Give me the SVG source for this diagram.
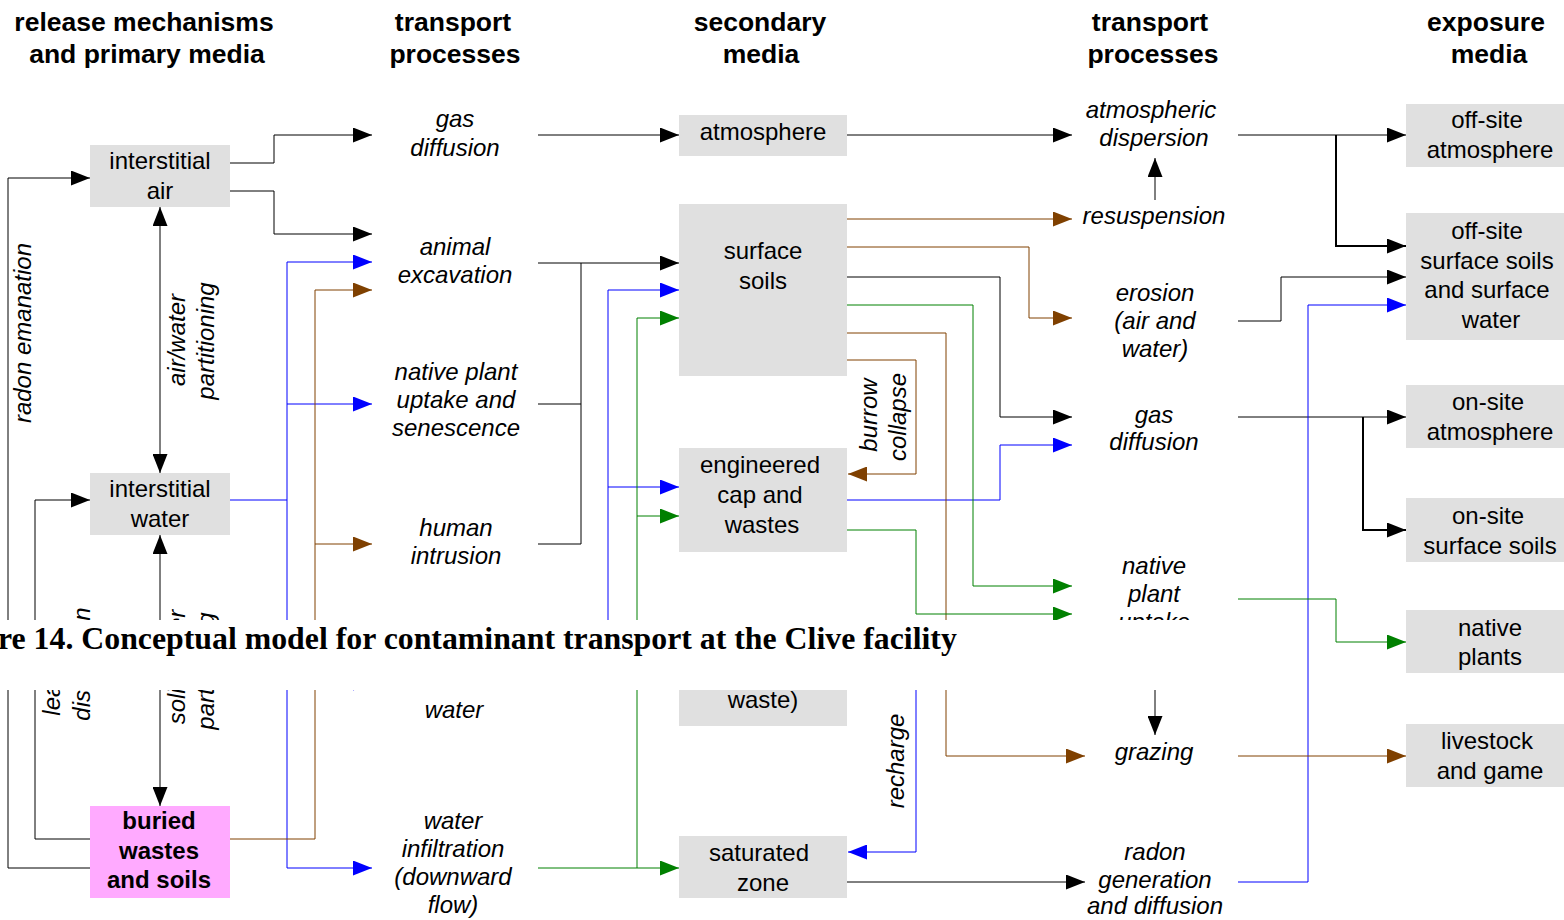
<svg xmlns="http://www.w3.org/2000/svg" width="1564" height="920" viewBox="0 0 1564 920">
<style>
.bg{fill:#fff}
.box{fill:#e0e0e0}
.pink{fill:#ffaaff}
.t{font-family:"Liberation Sans",Arial,sans-serif;font-size:24px;text-anchor:middle;fill:#000}
.i{font-style:italic}
.bd{font-weight:bold}
.h{font-family:"Liberation Sans",Arial,sans-serif;font-size:26.5px;font-weight:bold;text-anchor:middle;fill:#000}
.cap{font-family:"Liberation Serif","Times New Roman",serif;font-size:31.8px;font-weight:bold;fill:#000}
.c{fill:none;stroke-width:1}
.k{stroke:#000}
.b{stroke:#0000ff}
.br{stroke:#804000}
.g{stroke:#008000}
.w2{stroke-width:2}
</style>
<defs>
<marker id="ak" markerUnits="userSpaceOnUse" markerWidth="19" markerHeight="15" refX="19" refY="7.5" orient="auto-start-reverse"><path d="M0,0 L19,7.5 L0,15 z" fill="#000"/></marker>
<marker id="ab" markerUnits="userSpaceOnUse" markerWidth="19" markerHeight="15" refX="19" refY="7.5" orient="auto-start-reverse"><path d="M0,0 L19,7.5 L0,15 z" fill="#0000ff"/></marker>
<marker id="abr" markerUnits="userSpaceOnUse" markerWidth="19" markerHeight="15" refX="19" refY="7.5" orient="auto-start-reverse"><path d="M0,0 L19,7.5 L0,15 z" fill="#7f4000"/></marker>
<marker id="ag" markerUnits="userSpaceOnUse" markerWidth="19" markerHeight="15" refX="19" refY="7.5" orient="auto-start-reverse"><path d="M0,0 L19,7.5 L0,15 z" fill="#008000"/></marker>
</defs>
<rect class="bg" x="0" y="0" width="1564" height="920"/>

<g id="headers">
<text class="h" x="144" y="31">release mechanisms</text>
<text class="h" x="147" y="63">and primary media</text>
<text class="h" x="453" y="31">transport</text>
<text class="h" x="455" y="63">processes</text>
<text class="h" x="760" y="31">secondary</text>
<text class="h" x="761" y="63">media</text>
<text class="h" x="1150" y="31">transport</text>
<text class="h" x="1153" y="63">processes</text>
<text class="h" x="1486" y="31">exposure</text>
<text class="h" x="1489" y="63">media</text>
</g>

<g id="connectors">
<!-- black -->
<path class="c k" d="M230,163 H274 V135 H372" marker-end="url(#ak)"/>
<path class="c k" d="M230,191 H274 V234 H372" marker-end="url(#ak)"/>
<path class="c k" d="M90,868 H8 V178 H90" marker-end="url(#ak)"/>
<path class="c k" d="M90,839 H35 V500 H90" marker-end="url(#ak)"/>
<path class="c k" d="M160,207 V473" marker-start="url(#ak)" marker-end="url(#ak)"/>
<path class="c k" d="M160,535 V806" marker-start="url(#ak)" marker-end="url(#ak)"/>
<path class="c k" d="M538,135 H679" marker-end="url(#ak)"/>
<path class="c k" d="M538,263 H679" marker-end="url(#ak)"/>
<path class="c k" d="M538,404 H581 M538,544 H581 V263"/>
<path class="c k" d="M847,135 H1072" marker-end="url(#ak)"/>
<path class="c k" d="M1155,200 V158" marker-end="url(#ak)"/>
<path class="c k" d="M847,277 H1000 V417 H1072" marker-end="url(#ak)"/>
<path class="c k" d="M1238,135 H1406" marker-end="url(#ak)"/>
<path class="c k w2" d="M1336,135 V246 H1406" marker-end="url(#ak)"/>
<path class="c k" d="M1238,321 H1281 V277 H1406" marker-end="url(#ak)"/>
<path class="c k" d="M1238,417 H1406" marker-end="url(#ak)"/>
<path class="c k w2" d="M1363,417 V530 H1406" marker-end="url(#ak)"/>
<path class="c k" d="M1155,640 V735" marker-end="url(#ak)"/>
<path class="c k" d="M847,882 H1085" marker-end="url(#ak)"/>
<!-- blue -->
<path class="c b" d="M230,500 H287 M287,262 V868"/>
<path class="c b" d="M287,262 H372" marker-end="url(#ab)"/>
<path class="c b" d="M287,404 H372" marker-end="url(#ab)"/>
<path class="c b" d="M287,683 H372" marker-end="url(#ab)"/>
<path class="c b" d="M287,868 H372" marker-end="url(#ab)"/>
<path class="c b" d="M608,640 V290 H679" marker-end="url(#ab)"/>
<path class="c b" d="M608,487 H679" marker-end="url(#ab)"/>
<path class="c b" d="M847,500 H1000 V445 H1072" marker-end="url(#ab)"/>
<path class="c b" d="M916,640 V852 H848" marker-end="url(#ab)"/>
<path class="c b" d="M1238,882 H1308 V305 H1406" marker-end="url(#ab)"/>
<!-- brown -->
<path class="c br" d="M230,839 H315 V290 H372" marker-end="url(#abr)"/>
<path class="c br" d="M315,544 H372" marker-end="url(#abr)"/>
<path class="c br" d="M847,219 H1072" marker-end="url(#abr)"/>
<path class="c br" d="M847,247 H1029 V318 H1072" marker-end="url(#abr)"/>
<path class="c br" d="M847,333 H946 V756 H1085" marker-end="url(#abr)"/>
<path class="c br" d="M847,360 H916 V474 H848" marker-end="url(#abr)"/>
<path class="c br" d="M1238,756 H1406" marker-end="url(#abr)"/>
<!-- green -->
<path class="c g" d="M637,868 V318 H679" marker-end="url(#ag)"/>
<path class="c g" d="M637,516 H679" marker-end="url(#ag)"/>
<path class="c g" d="M538,868 H679" marker-end="url(#ag)"/>
<path class="c g" d="M847,305 H973 V586 H1072" marker-end="url(#ag)"/>
<path class="c g" d="M847,530 H916 V614 H1072" marker-end="url(#ag)"/>
<path class="c g" d="M1238,599 H1336 V642 H1406" marker-end="url(#ag)"/>
</g>

<g id="connector-labels">
<text class="t i" transform="translate(31,333) rotate(-90)">radon emanation</text>
<text class="t i" transform="translate(185,340) rotate(-90)">air/water</text>
<text class="t i" transform="translate(214,341) rotate(-90)">partitioning</text>
<text class="t i" transform="translate(60,671) rotate(-90)">leaching</text>
<text class="t i" transform="translate(90,664) rotate(-90)">dissolution</text>
<text class="t i" transform="translate(185,667) rotate(-90)">solid/water</text>
<text class="t i" transform="translate(214,671) rotate(-90)">partitioning</text>
<text class="t i" transform="translate(877,415) rotate(-90)">burrow</text>
<text class="t i" transform="translate(906,417) rotate(-90)">collapse</text>
<text class="t i" transform="translate(904,761) rotate(-90)">recharge</text>
</g>

<g id="interstitial-air"><rect class="box" x="90" y="145" width="140" height="62"/><text class="t" x="160" y="169">interstitial</text><text class="t" x="160" y="199">air</text></g>
<g id="interstitial-water"><rect class="box" x="90" y="473" width="140" height="62"/><text class="t" x="160" y="497">interstitial</text><text class="t" x="160" y="527">water</text></g>
<g id="buried-wastes"><rect class="pink" x="90" y="806" width="140" height="92"/><text class="t bd" x="159" y="829">buried</text><text class="t bd" x="159" y="859">wastes</text><text class="t bd" x="159" y="888">and soils</text></g>

<g id="p-gas-diffusion-1"><text class="t i" x="455" y="127">gas</text><text class="t i" x="455" y="156">diffusion</text></g>
<g id="p-animal-excavation"><text class="t i" x="455" y="255">animal</text><text class="t i" x="455" y="283">excavation</text></g>
<g id="p-native-plant-uptake-senescence"><text class="t i" x="456" y="380">native plant</text><text class="t i" x="456" y="408">uptake and</text><text class="t i" x="456" y="436">senescence</text></g>
<g id="p-human-intrusion"><text class="t i" x="456" y="536">human</text><text class="t i" x="456" y="564">intrusion</text></g>
<g id="p-flow-of-water"><text class="t i" x="454" y="690">flow of</text><text class="t i" x="454" y="718">water</text></g>
<g id="p-water-infiltration"><text class="t i" x="453" y="829">water</text><text class="t i" x="453" y="857">infiltration</text><text class="t i" x="453" y="885">(downward</text><text class="t i" x="453" y="913">flow)</text></g>

<g id="atmosphere"><rect class="box" x="679" y="115" width="168" height="41"/><text class="t" x="763" y="140">atmosphere</text></g>
<g id="surface-soils"><rect class="box" x="679" y="204" width="168" height="172"/><text class="t" x="763" y="259">surface</text><text class="t" x="763" y="289">soils</text></g>
<g id="engineered-cap"><rect class="box" x="679" y="448" width="168" height="104"/><text class="t" x="760" y="473">engineered</text><text class="t" x="760" y="503">cap and</text><text class="t" x="762" y="533">wastes</text></g>
<g id="waste-box"><rect class="box" x="679" y="640" width="168" height="86"/><text class="t" x="763" y="708">waste)</text></g>
<g id="saturated-zone"><rect class="box" x="679" y="836" width="168" height="62"/><text class="t" x="759" y="861">saturated</text><text class="t" x="763" y="891">zone</text></g>

<g id="p-atmospheric-dispersion"><text class="t i" x="1151" y="118">atmospheric</text><text class="t i" x="1154" y="146">dispersion</text></g>
<g id="p-resuspension"><text class="t i" x="1154" y="224">resuspension</text></g>
<g id="p-erosion"><text class="t i" x="1155" y="301">erosion</text><text class="t i" x="1155" y="329">(air and</text><text class="t i" x="1155" y="357">water)</text></g>
<g id="p-gas-diffusion-2"><text class="t i" x="1154" y="423">gas</text><text class="t i" x="1154" y="450">diffusion</text></g>
<g id="p-native-plant-uptake"><text class="t i" x="1154" y="574">native</text><text class="t i" x="1154" y="602">plant</text><text class="t i" x="1154" y="630">uptake</text></g>
<g id="p-grazing"><text class="t i" x="1154" y="760">grazing</text></g>
<g id="p-radon-generation"><text class="t i" x="1155" y="860">radon</text><text class="t i" x="1155" y="888">generation</text><text class="t i" x="1155" y="914">and diffusion</text></g>

<g id="offsite-atmosphere"><rect class="box" x="1406" y="104" width="158" height="63"/><text class="t" x="1487" y="128">off-site</text><text class="t" x="1490" y="158">atmosphere</text></g>
<g id="offsite-soils"><rect class="box" x="1406" y="213" width="158" height="127"/><text class="t" x="1487" y="239">off-site</text><text class="t" x="1487" y="269">surface soils</text><text class="t" x="1487" y="298">and surface</text><text class="t" x="1491" y="328">water</text></g>
<g id="onsite-atmosphere"><rect class="box" x="1406" y="385" width="158" height="63"/><text class="t" x="1488" y="410">on-site</text><text class="t" x="1490" y="440">atmosphere</text></g>
<g id="onsite-soils"><rect class="box" x="1406" y="498" width="158" height="64"/><text class="t" x="1488" y="524">on-site</text><text class="t" x="1490" y="554">surface soils</text></g>
<g id="native-plants"><rect class="box" x="1406" y="610" width="158" height="63"/><text class="t" x="1490" y="636">native</text><text class="t" x="1490" y="665">plants</text></g>
<g id="livestock"><rect class="box" x="1406" y="724" width="158" height="63"/><text class="t" x="1487" y="749">livestock</text><text class="t" x="1490" y="779">and game</text></g>

<g id="caption-band">
<rect class="bg" x="0" y="620" width="1240" height="70"/>
<text class="cap" x="-2" y="649">re 14. Conceptual model for contaminant transport at the Clive facility</text>
</g>
</svg>
